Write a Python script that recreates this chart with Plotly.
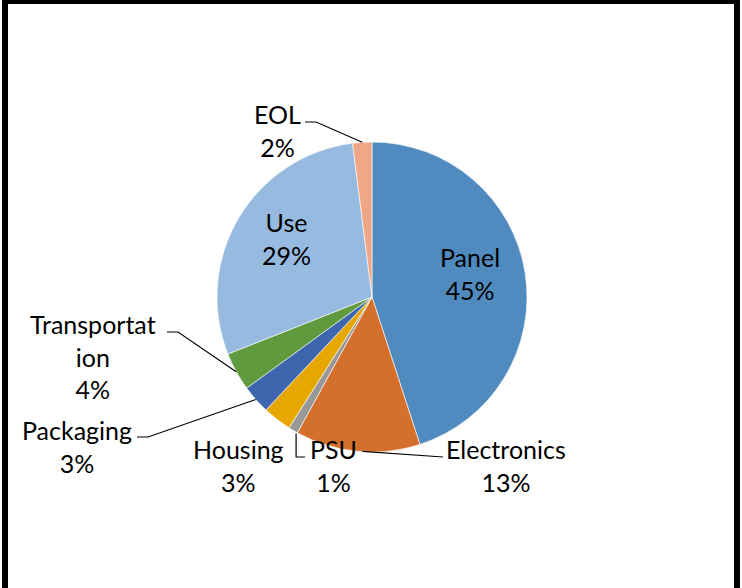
import math
import plotly.graph_objects as go

# ---- data ----
categories = ["Panel", "Electronics", "PSU", "Housing", "Packaging", "Transportation", "Use", "EOL"]
values = [45, 13, 1, 3, 3, 4, 29, 2]
display_names = ["Panel", "Electronics", "PSU", "Housing", "Packaging", "Transportat<br>ion", "Use", "EOL"]
colors = ["#4F8BBF", "#D4702C", "#989898", "#E6A800", "#3D66AF", "#5F9A3F", "#97BAE0", "#F0A788"]

W, H = 742, 588
CX, CY, R = 372, 297, 155  # pie centre / radius in pixels
FONT = "Lato"
FS = 25

def px(x):
    return x / W

def py(y):
    return 1 - y / H

total = sum(values)
pct = [round(100 * v / total) for v in values]

# mid-angles (clockwise from 12 o'clock)
mids = []
cum = 0
for v in values:
    mids.append((cum + v / 2) / total * 2 * math.pi)
    cum += v

def edge(i, f=1.0):
    a = mids[i]
    return CX + f * R * math.sin(a), CY - f * R * math.cos(a)

fig = go.Figure()
fig.add_trace(go.Pie(
    labels=categories,
    values=values,
    sort=False,
    direction="clockwise",
    rotation=0,
    marker=dict(colors=colors, line=dict(color="white", width=0.6)),
    textinfo="none",
    hoverinfo="label+percent",
    showlegend=False,
    domain=dict(x=[px(CX - R), px(CX + R)], y=[py(CY + R), py(CY - R)]),
))

# label placement (pixel centres of text blocks) and leader-line style
label_pos = {
    "Panel": (None, 0.64),
    "Use": (None, 0.64),
    "EOL": ((277, 131), "elbow", (305, 122)),
    "Transportation": ((93, 356), "elbow", (167, 332)),
    "Packaging": ((77, 446), "elbow", (137, 437)),
    "Housing": ((238, 465), None, (0, 0)),
    "PSU": ((333, 465), "vert", (305, 457)),
    "Electronics": ((506, 465), "straight", (443, 457)),
}
INSIDE_DY = -8

annotations = []
shapes = []
for i, c in enumerate(categories):
    text = f"{display_names[i]}<br>{pct[i]}%"
    spec = label_pos[c]
    if spec[0] is None:
        x, y = edge(i, spec[1])
        annotations.append(dict(x=px(x), y=py(y + INSIDE_DY), xref="paper", yref="paper", text=text,
                                showarrow=False, font=dict(family=FONT, size=FS, color="black"),
                                xanchor="center", yanchor="middle"))
        continue
    (tx, ty), kind, (lx, ly) = spec
    annotations.append(dict(x=px(tx), y=py(ty), xref="paper", yref="paper", text=text,
                            showarrow=False, font=dict(family=FONT, size=FS, color="black"),
                            xanchor="center", yanchor="middle"))
    ex, ey = edge(i)
    if kind == "elbow":
        path = f"M {px(lx)} {py(ly)} L {px(lx + 11)} {py(ly)} L {px(ex)} {py(ey)}"
    elif kind == "vert":
        path = f"M {px(ex + 3)} {py(ey + 3)} L {px(ex + 3)} {py(ly)} L {px(lx)} {py(ly)}"
    elif kind == "straight":
        path = f"M {px(ex + 5)} {py(ey)} L {px(lx)} {py(ly)}"
    else:
        path = None
    if path:
        shapes.append(dict(type="path", xref="paper", yref="paper", path=path,
                           line=dict(color="black", width=1.2)))

# outer black frame (left, right, top)
frame = [(2, 0, 8, H), (734, 0, 740, H), (2, 0, 740, 4)]
for x0, y0, x1, y1 in frame:
    shapes.append(dict(type="rect", xref="paper", yref="paper",
                       x0=px(x0), x1=px(x1), y0=py(y1), y1=py(y0),
                       fillcolor="black", line=dict(width=0)))

fig.update_layout(
    width=W, height=H,
    margin=dict(l=0, r=0, t=0, b=0),
    paper_bgcolor="white",
    plot_bgcolor="white",
    annotations=annotations,
    shapes=shapes,
)

fig.write_html("out.html", config={"displayModeBar": False},
               post_script="document.body.style.margin='0';document.body.style.overflow='hidden';")
